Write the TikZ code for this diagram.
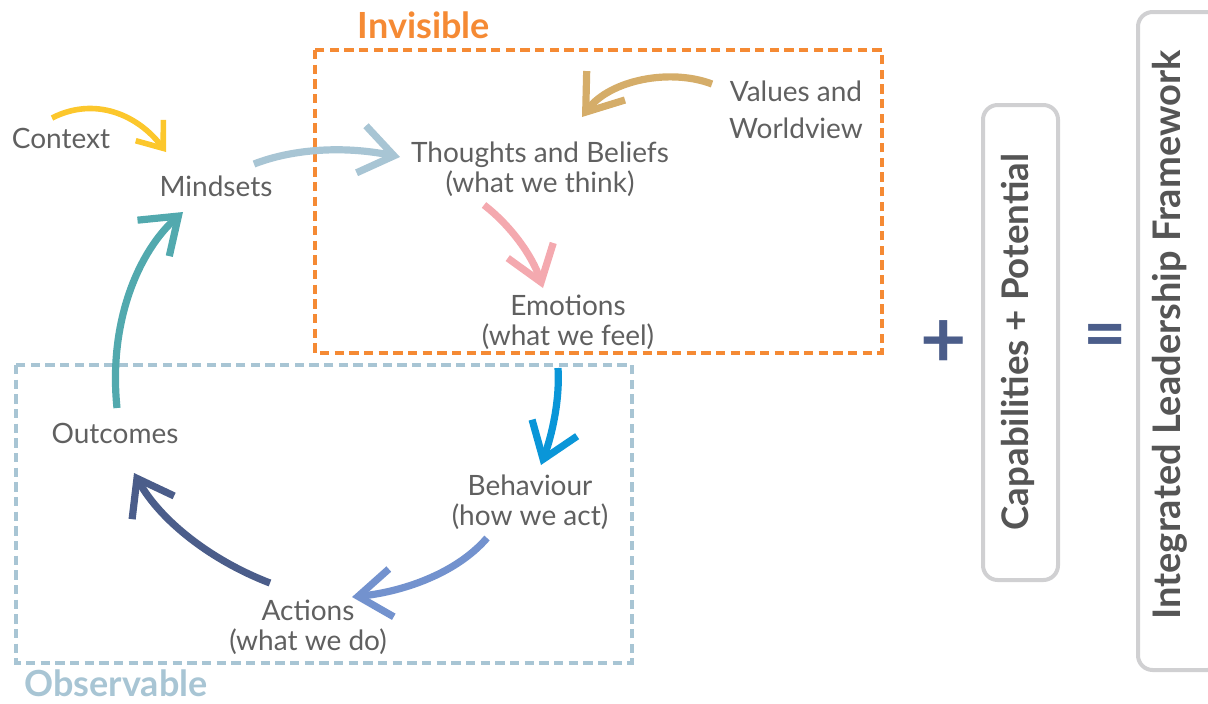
\documentclass[tikz,border=0pt]{standalone}
\usepackage{fontspec}
\setmainfont{Lato}
\usetikzlibrary{arrows.meta}
\definecolor{txt}{HTML}{606060}
\definecolor{boldtxt}{HTML}{555555}
\definecolor{orng}{HTML}{F58A34}
\definecolor{obsv}{HTML}{A8C5D4}
\definecolor{yel}{HTML}{FCC72C}
\definecolor{tan}{HTML}{D5AD69}
\definecolor{pink}{HTML}{F4A9AF}
\definecolor{skyb}{HTML}{0A96D8}
\definecolor{peri}{HTML}{7392CE}
\definecolor{slate}{HTML}{4B5D8A}
\definecolor{teal}{HTML}{52A9AE}
\definecolor{frame}{HTML}{D0D0D2}
\tikzset{
  lbl/.style={text=txt, font=\fontsize{21}{22.5}\selectfont, align=center, anchor=base, inner sep=0pt},
  zone/.style={text=#1, font=\bfseries\fontsize{27}{29}\selectfont, anchor=base, inner sep=0pt},
  cyc/.style={draw=#1, line width=5.4pt, -{Straight Barb[length=25pt,width=36pt]}},
  dashbox/.style={draw=#1, line width=2.3pt, dash pattern=on 7pt off 4pt},
  pillar/.style={draw=frame, line width=3pt, rounded corners=11pt},
  vtext/.style={text=boldtxt, font=\bfseries\fontsize{#1}{#1}\selectfont, rotate=90, inner sep=0pt},
  opsym/.style={text=slate, font=\bfseries\fontsize{#1}{#1}\selectfont, inner sep=0pt},
}
\begin{document}
\begin{tikzpicture}[x=0.75pt,y=-0.75pt]
\useasboundingbox (0,0) rectangle (1208,704);

% zones
\draw[dashbox=orng] (315,50) rectangle (882,353);
\draw[dashbox=obsv] (16,365) rectangle (632,663);
\node[zone=orng] (inv) at (424,38) {Invisible};
\node[zone=obsv] (obs) at (116,696) {Observable};

% cycle labels (base = baseline of the last line)
\node[lbl] (ctx) at (61,148) {Context};
\node[lbl] (mind) at (216,196) {Mindsets};
\node[lbl] (tb) at (540,192) {Thoughts and Beliefs\\(what we think)};
\node[lbl] (vw) at (796,138) {Values and\\[5pt]Worldview};
\node[lbl] (emo) at (568,345) {Emotions\\(what we feel)};
\node[lbl] (beh) at (530,525) {Behaviour\\(how we act)};
\node[lbl] (act) at (308,650) {Actions\\(what we do)};
\node[lbl] (out) at (115,443) {Outcomes};

% connector ends
\coordinate (c1s) at (52,118);  \coordinate (c1e) at (166,152);
\coordinate (c2s) at (254,164); \coordinate (c2e) at (400,157);
\coordinate (c3s) at (712,84);  \coordinate (c3e) at (582,117);
\coordinate (c4s) at (484,205); \coordinate (c4e) at (543,288);
\coordinate (c5s) at (558,368); \coordinate (c5e) at (541,465);
\coordinate (c6s) at (487,538); \coordinate (c6e) at (352,597);
\coordinate (c7s) at (270,583); \coordinate (c7e) at (134,473);
\coordinate (c8s) at (117,408); \coordinate (c8e) at (183,212);

\draw[draw=yel, line width=4.2pt, -{Straight Barb[length=17pt,width=26pt]}]
  (c1s) .. controls (95,96) and (138,115) .. (c1e);
\draw[cyc=obsv] (c2s) .. controls (290,150) and (340,145) .. (c2e);
\draw[cyc=tan] (c3s) .. controls (670,68) and (610,80) .. (c3e);
\draw[cyc=pink] (c4s) .. controls (510,225) and (532,255) .. (c4e);
\draw[cyc=skyb] (c5s) .. controls (560,400) and (552,435) .. (c5e);
\draw[cyc=peri] (c6s) .. controls (455,575) and (400,592) .. (c6e);
\draw[cyc=slate] (c7s) .. controls (210,560) and (160,520) .. (c7e);
\draw[cyc=teal] (c8s) .. controls (108,320) and (140,250) .. (c8e);

% operators and pillars
\node[opsym=60] (plus) at (944,344) {+};
\draw[pillar] (983,105) rectangle (1058,580);
\node[vtext=27.5] (cap) at (1018,342) {Capabilities + Potential};
\node[opsym=56] (eq) at (1105,342) {=};
\draw[pillar] (1138,12) rectangle (1222,670);
\node[vtext=28.5] (ilf) at (1170,335) {Integrated Leadership Framework};
\end{tikzpicture}
\end{document}
